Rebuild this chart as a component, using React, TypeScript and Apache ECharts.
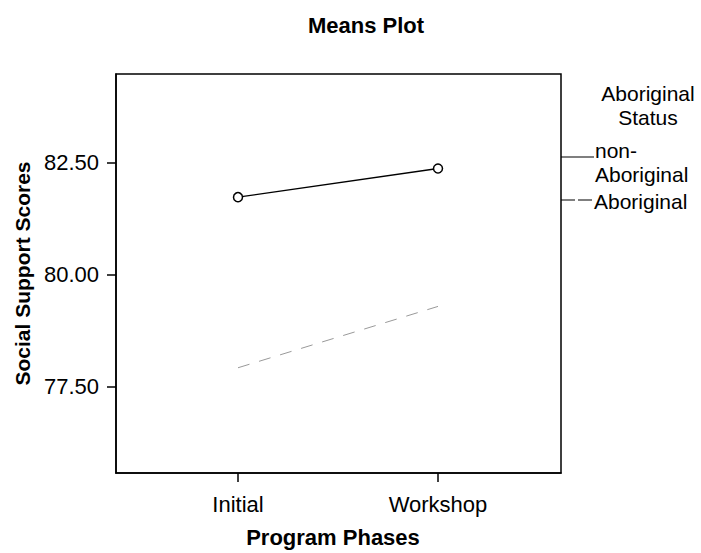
import React, { useEffect, useRef } from "react";
import * as echarts from "echarts";

const categories = ["Initial", "Workshop"];
const categoryPositions = [1, 2];
const nonAboriginal = [81.73, 82.37];
const aboriginal = [77.92, 79.29];
const yTicks = [77.5, 80.0, 82.5];
const legendTitle = "Aboriginal\nStatus";
const legendNames = ["non-\nAboriginal", "Aboriginal"];

const FONT = "Liberation Sans, Arial, sans-serif";
const FS = 22;
const LFS = 21;

export default function App() {
  const ref = useRef<HTMLDivElement>(null);
  useEffect(() => {
    const chart = echarts.init(ref.current!, null, { renderer: "svg" });
    chart.setOption({
      animation: false,
      backgroundColor: "#fff",
      grid: {
        left: 116,
        top: 74,
        width: 445,
        height: 401,
        show: true,
        borderColor: "#000",
        borderWidth: 1.5,
        backgroundColor: "transparent",
      },
      xAxis: {
        type: "value",
        min: 0.39,
        max: 2.615,
        name: "Program Phases",
        nameLocation: "middle",
        nameGap: 53,
        nameTextStyle: {
          fontFamily: FONT,
          fontSize: FS,
          fontWeight: "bold",
          color: "#000",
          padding: [0, 11, 0, 0],
        },
        axisLine: { show: true, lineStyle: { color: "#000", width: 1.5 } },
        axisTick: {
          show: true,
          length: 9,
          customValues: categoryPositions,
          lineStyle: { color: "#000", width: 1.5 },
        },
        axisLabel: {
          customValues: categoryPositions,
          formatter: (v: number) => categories[categoryPositions.indexOf(Math.round(v))] ?? "",
          fontFamily: FONT,
          fontSize: FS,
          color: "#000",
          margin: 20,
        },
        splitLine: { show: false },
      },
      yAxis: {
        type: "value",
        min: 75.57,
        max: 84.48,
        name: "Social Support Scores",
        nameLocation: "middle",
        nameGap: 82,
        nameTextStyle: { fontFamily: FONT, fontSize: FS - 1, fontWeight: "bold", color: "#000" },
        axisLine: { show: true, lineStyle: { color: "#000", width: 1.5 } },
        axisTick: {
          show: true,
          length: 9,
          customValues: yTicks,
          lineStyle: { color: "#000", width: 1.5 },
        },
        axisLabel: {
          customValues: yTicks,
          formatter: (v: number) => v.toFixed(2),
          fontFamily: FONT,
          fontSize: FS,
          color: "#000",
          margin: 17,
        },
        splitLine: { show: false },
      },
      series: [
        {
          name: "non-Aboriginal",
          type: "line",
          data: categoryPositions.map((x, i) => [x, nonAboriginal[i]]),
          symbol: "circle",
          symbolSize: 9,
          showSymbol: true,
          lineStyle: { color: "#000", width: 1.3 },
          itemStyle: { color: "#fff", borderColor: "#000", borderWidth: 1.5 },
        },
        {
          name: "Aboriginal",
          type: "line",
          data: categoryPositions.map((x, i) => [x, aboriginal[i]]),
          symbol: "none",
          lineStyle: { color: "#999", width: 1, type: [12, 10] },
        },
      ],
      graphic: [
        {
          type: "text",
          x: 366,
          y: 25,
          style: {
            text: "Means Plot",
            font: `bold ${FS}px ${FONT}`,
            fill: "#000",
            align: "center",
            verticalAlign: "middle",
          },
        },
        {
          type: "text",
          x: 648,
          y: 105,
          style: {
            text: legendTitle,
            font: `${LFS}px ${FONT}`,
            lineHeight: 24,
            fill: "#000",
            align: "center",
            verticalAlign: "middle",
          },
        },
        {
          type: "text",
          x: 595,
          y: 162,
          style: {
            text: legendNames[0],
            font: `${LFS}px ${FONT}`,
            lineHeight: 24,
            fill: "#000",
            align: "left",
            verticalAlign: "middle",
          },
        },
        {
          type: "text",
          x: 594,
          y: 201,
          style: { text: legendNames[1], font: `${LFS}px ${FONT}`, fill: "#000", align: "left", verticalAlign: "middle" },
        },
        { type: "line", shape: { x1: 561, y1: 157, x2: 594, y2: 157 }, style: { stroke: "#000", lineWidth: 1.2 } },
        {
          type: "line",
          shape: { x1: 561, y1: 200, x2: 593, y2: 200 },
          style: { stroke: "#000", lineWidth: 1.2, lineDash: [14, 3] },
        },
      ],
    });
    return () => chart.dispose();
  }, []);
  return (
    <div
      ref={ref}
      style={{ position: "absolute", left: 0, top: 0, width: 701, height: 553 }}
    />
  );
}
